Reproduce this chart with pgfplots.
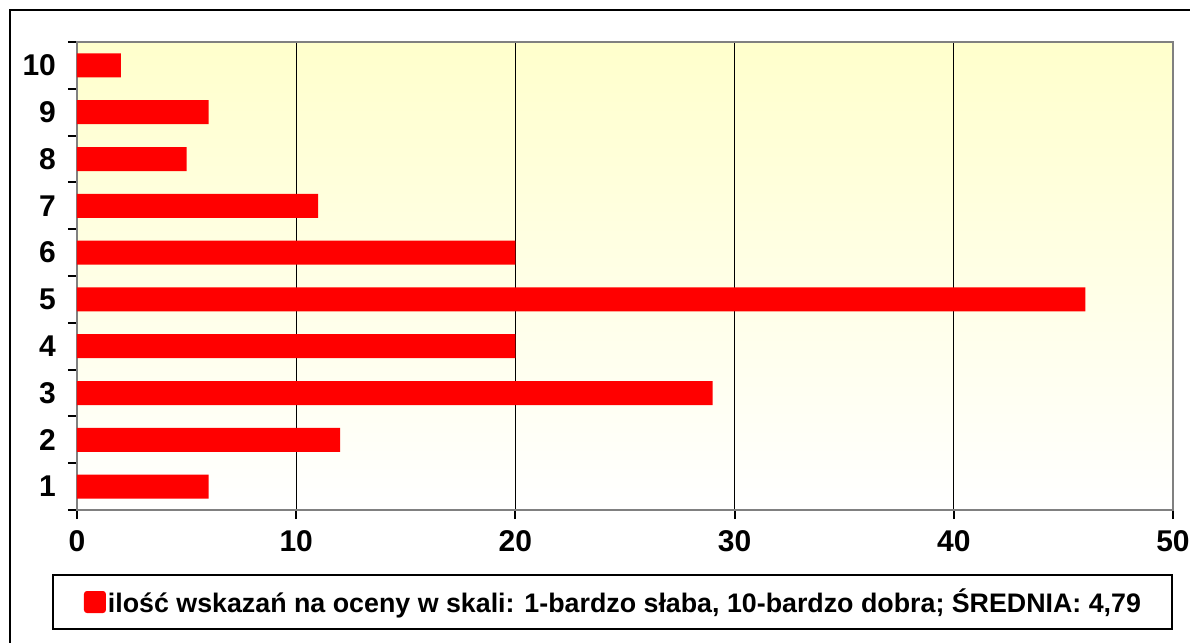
\documentclass[border=0pt]{standalone}
\usepackage{fontspec}
\setmainfont{Liberation Sans}
\usepackage{pgfplots}
\pgfplotsset{compat=1.18}
\definecolor{bgtop}{HTML}{FFFFCC}
\definecolor{axgray}{HTML}{808080}

\begin{document}
\begin{tikzpicture}
% page = 1190x643 px at 0.5pt per px, origin top left
\useasboundingbox (0,0) rectangle (595pt,-321.5pt);
\fill[white] (0,0) rectangle (595pt,-321.5pt);
\draw[line width=1pt] (5pt,-340pt) -- (5pt,-5pt) -- (610pt,-5pt);
\begin{axis}[
    at={(38.5pt,-21pt)}, anchor=north west,
    scale only axis, width=548pt, height=234pt,
    xbar, bar width=12pt,
    xmin=0, xmax=50, ymin=0.5, ymax=10.5,
    xtick={0,10,...,50},
    ytick={0.5,1.5,...,10.5},
    y tick label as interval,
    yticklabels={1,2,3,4,5,6,7,8,9,10},
    xtick pos=bottom, ytick pos=left,
    tick align=outside, major tick length=4.5pt,
    tick style={black, line width=1pt},
    axis line style={axgray, line width=1.2pt},
    xmajorgrids, grid style={black, line width=0.5pt},
    axis background/.style={top color=bgtop, bottom color=white},
    tick label style={font=\bfseries\fontsize{15}{17}\selectfont},
    xticklabel style={yshift=-2pt},
    yticklabel style={xshift=-2.5pt},
    /pgf/number format/assume math mode=true,
    legend style={at={(0.4886,-0.1368)}, anchor=north, draw=black,
        line width=1pt, inner xsep=15.5pt, inner ysep=6.8pt,
        font=\bfseries\fontsize{13.4}{15}\selectfont,
        nodes={inner sep=0pt}},
]
\addplot[fill=red, draw=none,
    legend image code/.code={\fill[red, rounded corners=1.5pt] (0pt,-5.5pt) rectangle (11pt,5.5pt);}]
    coordinates {(6,1) (12,2) (29,3) (20,4) (46,5) (20,6) (11,7) (5,8) (6,9) (2,10)};
\addlegendentry{\hspace{1pt}ilość wskazań na oceny w skali: 1-bardzo słaba, 10-bardzo dobra; ŚREDNIA: 4,79}
\end{axis}
\end{tikzpicture}
\end{document}
